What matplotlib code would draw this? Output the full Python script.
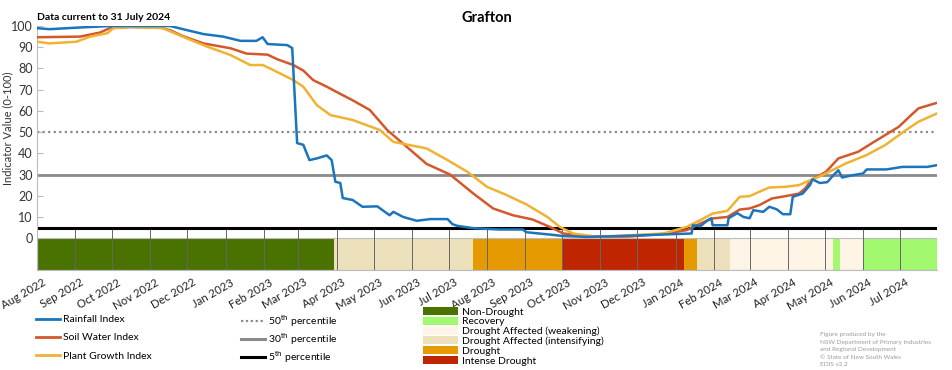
import matplotlib
matplotlib.use("Agg")
import matplotlib.pyplot as plt
import matplotlib.dates as mdates
from matplotlib.lines import Line2D
from matplotlib.patches import Patch
from matplotlib.transforms import ScaledTranslation
import pandas as pd

plt.rcParams['font.family'] = ['Lato', 'DejaVu Sans']

# ---- index series ----
rain_dates = ["2022-08-01", "2022-08-11", "2022-09-05", "2022-09-29", "2022-11-17", "2022-12-01",
              "2022-12-14", "2022-12-30", "2023-01-13", "2023-01-26", "2023-01-31", "2023-02-04",
              "2023-02-20", "2023-02-24", "2023-02-28", "2023-03-05", "2023-03-10", "2023-03-16",
              "2023-03-24", "2023-03-28", "2023-03-31", "2023-04-04", "2023-04-06", "2023-04-14",
              "2023-04-22", "2023-05-04", "2023-05-14", "2023-05-17", "2023-05-25", "2023-06-05",
              "2023-06-16", "2023-06-30", "2023-07-04", "2023-07-08", "2023-07-21", "2023-08-11",
              "2023-08-30", "2023-09-02", "2023-09-21", "2023-10-02", "2023-10-21", "2023-11-17",
              "2023-12-30", "2024-01-14", "2024-01-15", "2024-01-21", "2024-01-27", "2024-01-30",
              "2024-01-31", "2024-02-12", "2024-02-13", "2024-02-20", "2024-02-25", "2024-03-01",
              "2024-03-04", "2024-03-12", "2024-03-17", "2024-03-23", "2024-03-28", "2024-04-03",
              "2024-04-05", "2024-04-13", "2024-04-19", "2024-04-21", "2024-04-27", "2024-05-03",
              "2024-05-08", "2024-05-12", "2024-05-15", "2024-05-24", "2024-06-01", "2024-06-04",
              "2024-06-20", "2024-07-03", "2024-07-23", "2024-07-31"]
rain_vals = [99, 98.5, 99.3, 100, 100, 98,
             96.2, 95, 93, 93, 94.7, 91.5,
             91, 89.6, 44.8, 44, 36.8, 37.6,
             39, 36.8, 26.6, 26, 18.9, 18,
             14.8, 15, 10.8, 12.4, 10, 8.2,
             9, 9, 6.6, 5.8, 4.7, 4.1,
             4.1, 2.8, 1.7, 1.0, 0.6, 1.0,
             1.9, 2.2, 6.1, 5.6, 8.5, 9.4,
             6.1, 6.1, 9.4, 11.8, 10, 9.4,
             13.2, 12.4, 14.8, 13.6, 11.3, 11.3,
             19.5, 21, 25, 27.7, 26, 26.4,
             29.7, 32, 28.6, 29.7, 30.5, 32.4,
             32.4, 33.6, 33.6, 34.4]

soil_dates = ["2022-08-01", "2022-09-05", "2022-09-21", "2022-09-29", "2022-10-15", "2022-11-09",
              "2022-11-17", "2022-11-27", "2022-12-14", "2023-01-05", "2023-01-18", "2023-02-04",
              "2023-02-12", "2023-02-25", "2023-03-05", "2023-03-13", "2023-03-24", "2023-04-04",
              "2023-04-14", "2023-04-28", "2023-05-12", "2023-05-28", "2023-06-13", "2023-07-02",
              "2023-07-21", "2023-08-06", "2023-08-22", "2023-09-07", "2023-09-21", "2023-10-02",
              "2023-10-21", "2023-11-03", "2023-11-25", "2023-12-22", "2024-01-10", "2024-01-21",
              "2024-01-31", "2024-02-12", "2024-02-22", "2024-03-01", "2024-03-09", "2024-03-19",
              "2024-03-30", "2024-04-10", "2024-04-15", "2024-04-20", "2024-05-02", "2024-05-12",
              "2024-05-28", "2024-06-08", "2024-06-19", "2024-06-30", "2024-07-10", "2024-07-16",
              "2024-07-31"]
soil_vals = [94.7, 95, 96.9, 99, 99.5, 99.3,
             98, 95.3, 91.8, 89.5, 87, 86.5,
             84.3, 81.6, 79, 74.5, 71.4, 68,
             65, 60.4, 51, 43, 35, 30,
             21, 14, 10.8, 8.8, 5.3, 2.2,
             1.0, 0.7, 0.8, 2.0, 3.8, 6.9,
             9.3, 10, 13.5, 14, 15.6, 18.7,
             19.8, 21, 23.4, 27.4, 31.3, 37.6,
             40.7, 44.7, 48.6, 52.5, 58, 61.2,
             63.8]

plant_dates = ["2022-08-01", "2022-08-11", "2022-09-02", "2022-09-13", "2022-09-27", "2022-10-02",
               "2022-10-15", "2022-11-11", "2022-11-27", "2022-12-17", "2023-01-05", "2023-01-21",
               "2023-01-31", "2023-02-06", "2023-02-25", "2023-03-05", "2023-03-16", "2023-03-27",
               "2023-04-04", "2023-04-14", "2023-05-06", "2023-05-17", "2023-05-30", "2023-06-13",
               "2023-06-30", "2023-07-16", "2023-08-01", "2023-08-17", "2023-09-02", "2023-09-19",
               "2023-09-29", "2023-10-10", "2023-10-29", "2023-11-25", "2023-12-22", "2024-01-10",
               "2024-01-21", "2024-01-31", "2024-02-12", "2024-02-22", "2024-03-01", "2024-03-09",
               "2024-03-17", "2024-03-30", "2024-04-10", "2024-04-18", "2024-04-26", "2024-05-07",
               "2024-05-18", "2024-06-04", "2024-06-19", "2024-07-06", "2024-07-16", "2024-07-31"]
plant_vals = [92.6, 91.8, 92.6, 95, 96.6, 99,
              99.6, 99, 95, 90.3, 86.3, 81.6,
              81.6, 80, 74.5, 71.4, 62.7, 58,
              57, 55.7, 51, 45.4, 43.9, 42.3,
              36.8, 31.3, 24.2, 20.3, 15.9, 10,
              5.3, 2.2, 0.6, 1.4, 2.2, 5.3,
              8.5, 11.6, 12.9, 19.5, 19.8, 21.9,
              23.9, 24.2, 25, 27, 28.9, 32,
              35.2, 39.2, 43.9, 51, 54.9, 58.8]

# ---- drought category band ----
status_starts = ["2022-08-01", "2023-03-30", "2023-07-21", "2023-10-01", "2024-01-08",
                 "2024-01-18", "2024-02-14", "2024-05-08", "2024-05-13", "2024-06-01"]
status_end = "2024-07-31"
status_cats = ["Non-Drought", "Drought Affected (intensifying)", "Drought", "Intense Drought", "Drought",
               "Drought Affected (intensifying)", "Drought Affected (weakening)", "Recovery",
               "Drought Affected (weakening)", "Recovery"]

cat_colors = {
    "Non-Drought": "#4a7200",
    "Recovery": "#a2f86e",
    "Drought Affected (weakening)": "#fdf4e6",
    "Drought Affected (intensifying)": "#ece0bd",
    "Drought": "#e49a00",
    "Intense Drought": "#bf2600",
}

percentiles = [50, 30, 5]
percentile_labels = [r"50$^{\mathrm{th}}$ percentile", r"30$^{\mathrm{th}}$ percentile",
                     r"5$^{\mathrm{th}}$ percentile"]

rain_color = "#1b75bc"
soil_color = "#d4582a"
plant_color = "#efb232"

fig = plt.figure(figsize=(9.52, 3.70), dpi=100)
ax = fig.add_axes([37 / 952, 1 - 270 / 370, 900 / 952, 244 / 370])

# category band below zero
starts = mdates.date2num(pd.to_datetime(status_starts))
ends = list(starts[1:]) + [mdates.date2num(pd.Timestamp(status_end))]
for s, e, c in zip(starts, ends, status_cats):
    ax.bar(s, 15, width=e - s, bottom=-15, align='edge', color=cat_colors[c], linewidth=0, zorder=1)
ax.bar(starts[0], 15, width=ends[-1] - starts[0], bottom=-15, align='edge', fill=False,
       edgecolor="#bdbdbd", linewidth=0.8, zorder=1.2)

# percentile lines
ax.axhline(percentiles[0], color="#8a8a8a", linewidth=1.6, linestyle=(0, (1, 1.5)), zorder=1.6)
ax.axhline(percentiles[1], color="#8a8a8a", linewidth=2.0, zorder=1.6)
ax.axhline(percentiles[2], color="black", linewidth=2.2, zorder=1.6)

ax.plot(pd.to_datetime(rain_dates), rain_vals, color=rain_color, linewidth=1.8, zorder=3)
ax.plot(pd.to_datetime(soil_dates), soil_vals, color=soil_color, linewidth=1.8, zorder=2.8)
ax.plot(pd.to_datetime(plant_dates), plant_vals, color=plant_color, linewidth=1.8, zorder=2.9)

ax.set_xlim(pd.Timestamp("2022-08-01"), pd.Timestamp(status_end))
ax.set_ylim(-15, 100)
ax.set_yticks(range(0, 101, 10))

ax.xaxis.set_major_locator(mdates.MonthLocator())
ax.xaxis.set_major_formatter(mdates.DateFormatter('%b %Y'))
ax.tick_params(axis='x', direction='in', length=30, width=0.7, color="#666666",
               labelsize=8.2, labelcolor="#222222", pad=5)
shift = ScaledTranslation(5 / 100, 0, fig.dpi_scale_trans)
for lbl in ax.get_xticklabels():
    lbl.set_rotation(30)
    lbl.set_ha('right')
    lbl.set_rotation_mode('anchor')
    lbl.set_transform(lbl.get_transform() + shift)
ax.tick_params(axis='y', direction='in', length=4.5, width=0.8, color="#bbbbbb",
               labelsize=9, labelcolor="#333333", pad=3)

for side in ['top', 'right']:
    ax.spines[side].set_visible(False)
ax.spines['left'].set_color("#bbbbbb")
ax.spines['bottom'].set_color("#bbbbbb")

ax.set_ylabel("Indicator Value (0-100)", fontsize=8, color="#333333")
ax.yaxis.set_label_coords(-0.026, 67 / 115)

fig.text(0.5116, 0.952, "Grafton", ha='center', va='center', fontsize=10.5, fontweight='bold')
fig.text(37 / 952, 0.953, "Data current to 31 July 2024", ha='left', va='center',
         fontsize=7.5, fontweight='bold')

# legends
line_handles = [Line2D([], [], color=rain_color, linewidth=2),
                Line2D([], [], color=soil_color, linewidth=2),
                Line2D([], [], color=plant_color, linewidth=2)]
leg1 = ax.legend(line_handles, ["Rainfall Index", "Soil Water Index", "Plant Growth Index"],
                 loc='upper left', bbox_to_anchor=(36 / 952, 1 - 315 / 370),
                 bbox_transform=fig.transFigure, frameon=False, fontsize=7.5,
                 handlelength=2.3, handletextpad=0.3, labelspacing=0.85, borderpad=0,
                 borderaxespad=0)
ax.add_artist(leg1)

pct_handles = [Line2D([], [], color="#8a8a8a", linewidth=1.6, linestyle=(0, (1, 1.2))),
               Line2D([], [], color="#8a8a8a", linewidth=2.2),
               Line2D([], [], color="black", linewidth=2.2)]
leg2 = ax.legend(pct_handles, percentile_labels, loc='upper left',
                 bbox_to_anchor=(241 / 952, 1 - 313 / 370), bbox_transform=fig.transFigure,
                 frameon=False, fontsize=7.5, handlelength=2.3, handletextpad=0.3,
                 labelspacing=0.22, borderpad=0, borderaxespad=0)
ax.add_artist(leg2)

cat_order = ["Non-Drought", "Recovery", "Drought Affected (weakening)",
             "Drought Affected (intensifying)", "Drought", "Intense Drought"]
cat_handles = [Patch(facecolor=cat_colors[c], edgecolor='none') for c in cat_order]
ax.legend(cat_handles, cat_order, loc='upper left', bbox_to_anchor=(423 / 952, 1 - 307 / 370),
          bbox_transform=fig.transFigure, frameon=False, fontsize=7.5, handlelength=3.4,
          handleheight=0.8, handletextpad=0.35, labelspacing=0.02, borderpad=0, borderaxespad=0)

fig.text(820 / 952, 1 - 332 / 370,
         "Figure produced by the\nNSW Department of Primary Industries\nand Regional Development\n"
         "\u00a9 State of New South Wales\nEDIS v2.2",
         ha='left', va='top', fontsize=4.6, color="#9a9a9a", linespacing=1.65)

fig.savefig("out.png", dpi=100)
